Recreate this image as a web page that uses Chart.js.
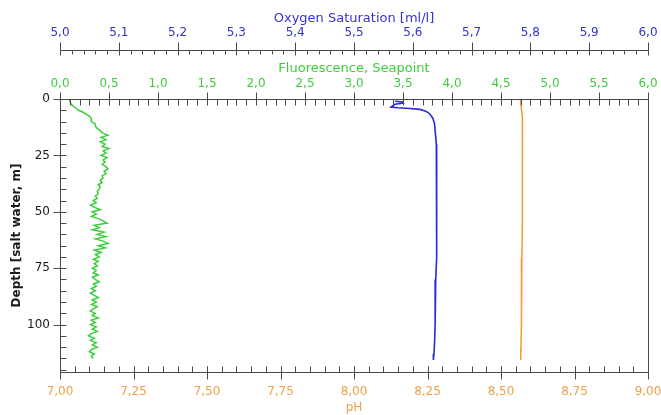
<!DOCTYPE html>
<html>
<head>
<meta charset="utf-8">
<script src="https://cdn.jsdelivr.net/npm/chart.js@4.4.0/dist/chart.umd.min.js"></script>
<style>
    html, body { margin: 0; padding: 0; background: #ffffff; }
    #profile-chart { display: block; }
</style>
</head>
<body>
<canvas id="profile-chart" width="661" height="415"></canvas>
<script>
// CTD cast - depth profile of fluorescence, oxygen saturation and pH

// Fluorescence, Seapoint
const fluoDepth = [0.4, 1, 2, 3, 4, 5, 6, 7, 8, 9, 10, 11, 12, 13, 14, 15, 16, 17, 18, 19, 20,
    21, 22, 23, 24, 25, 26, 27, 28, 29, 30, 31, 32, 33, 34, 35, 36, 37, 38, 39, 40,
    41, 42, 43, 44, 45, 46, 47, 48, 49, 50, 51, 52, 53, 54, 55, 56, 57, 58, 59, 60,
    61, 62, 63, 64, 65, 66, 67, 68, 69, 70, 71, 72, 73, 74, 75, 76, 77, 78, 79, 80,
    81, 82, 83, 84, 85, 86, 87, 88, 89, 90, 91, 92, 93, 94, 95, 96, 97, 98, 99, 100,
    101, 102, 103, 104, 105, 106, 107, 108, 109, 110, 111, 112, 113, 114, 115];
const fluoValues = [0.10, 0.10, 0.11, 0.13, 0.16, 0.19, 0.24, 0.28, 0.31, 0.32, 0.32,
    0.36, 0.36, 0.38, 0.41, 0.43, 0.49, 0.42, 0.47, 0.41, 0.46,
    0.43, 0.50, 0.44, 0.47, 0.42, 0.48, 0.44, 0.46, 0.43, 0.47,
    0.49, 0.45, 0.47, 0.43, 0.44, 0.41, 0.43, 0.39, 0.41, 0.40,
    0.38, 0.39, 0.36, 0.38, 0.34, 0.37, 0.31, 0.35, 0.41, 0.33,
    0.37, 0.32, 0.39, 0.44, 0.48, 0.35, 0.40, 0.33, 0.45, 0.38,
    0.47, 0.36, 0.44, 0.49, 0.39, 0.46, 0.35, 0.42, 0.36, 0.40,
    0.34, 0.39, 0.35, 0.38, 0.33, 0.37, 0.34, 0.39, 0.33, 0.36,
    0.40, 0.34, 0.37, 0.32, 0.36, 0.31, 0.35, 0.39, 0.33, 0.37,
    0.32, 0.38, 0.34, 0.31, 0.36, 0.33, 0.39, 0.32, 0.36, 0.31,
    0.37, 0.33, 0.38, 0.32, 0.29, 0.35, 0.31, 0.37, 0.33, 0.38,
    0.32, 0.30, 0.35, 0.32, 0.34];

// Oxygen Saturation [ml/l]
const oxyDepth = [1.0, 1.3, 1.8, 2.3, 3.0, 3.6, 3.9, 4.2, 4.6, 5.3, 6.0, 7.0, 8.5, 11, 14,
    20, 31, 40, 50, 60, 70, 80, 90, 100, 108, 113, 115.7];
const oxyValues = [5.570, 5.583, 5.584, 5.570, 5.566, 5.563, 5.575, 5.595, 5.612, 5.621,
    5.626, 5.630, 5.634, 5.637, 5.638, 5.640, 5.641, 5.641, 5.641, 5.640, 5.640, 5.639,
    5.638, 5.638, 5.637, 5.636, 5.635];

// pH
const phDepth = [0.4, 3, 6, 9, 15, 25, 40, 55, 70, 85, 100, 110, 115.7];
const phValues = [8.566, 8.568, 8.571, 8.573, 8.574, 8.573, 8.572, 8.572, 8.571, 8.570,
    8.569, 8.568, 8.567];

// Tick labels
const depthTicks = [0, 25, 50, 75, 100];
const depthLabels = ['0', '25', '50', '75', '100'];
const phTicks = [7.00, 7.25, 7.50, 7.75, 8.00, 8.25, 8.50, 8.75, 9.00];
const phLabels = ['7,00', '7,25', '7,50', '7,75', '8,00', '8,25', '8,50', '8,75', '9,00'];
const fluoTicks = [0, 0.5, 1, 1.5, 2, 2.5, 3, 3.5, 4, 4.5, 5, 5.5, 6];
const fluoLabels = ['0,0', '0,5', '1,0', '1,5', '2,0', '2,5', '3,0', '3,5', '4,0', '4,5', '5,0', '5,5', '6,0'];
const oxyTicks = [5.0, 5.1, 5.2, 5.3, 5.4, 5.5, 5.6, 5.7, 5.8, 5.9, 6.0];
const oxyLabels = ['5,0', '5,1', '5,2', '5,3', '5,4', '5,5', '5,6', '5,7', '5,8', '5,9', '6,0'];

const BLUE = '#3434c8';
const GREEN = '#3ccf3c';
const ORANGE = '#f0a048';
const AXIS = '#4a4a4a';
const FONT = '12px "DejaVu Sans"';
const TITLE_FONT = '13px "DejaVu Sans"';

function toPoints(depths, values) {
    return depths.map((d, i) => ({ x: values[i], y: d }));
}

function crisp(v) {
    return Math.round(v) + 0.5;
}

// Draw a horizontal axis: line, major/minor ticks, labels and title
function drawHAxis(ctx, chart, scale, y, o) {
    const area = chart.chartArea;
    y = crisp(y);
    ctx.strokeStyle = AXIS;
    ctx.lineWidth = 1;
    ctx.beginPath();
    ctx.moveTo(area.left, y);
    ctx.lineTo(area.right, y);

    // minor ticks, inward
    const n = Math.round((o.max - o.min) / o.minorStep);
    for (let i = 0; i <= n; i++) {
        const x = crisp(scale.getPixelForValue(o.min + i * o.minorStep));
        ctx.moveTo(x, y);
        ctx.lineTo(x, y + o.dir * o.minorLen);
    }
    // major ticks, both sides
    o.ticks.forEach(t => {
        const x = crisp(scale.getPixelForValue(t));
        ctx.moveTo(x, y - o.dir * o.outLen);
        ctx.lineTo(x, y + o.dir * o.inLen);
    });
    ctx.stroke();

    ctx.fillStyle = o.color;
    ctx.font = FONT;
    ctx.textAlign = 'center';
    ctx.textBaseline = 'middle';
    o.ticks.forEach((t, i) => {
        ctx.fillText(o.labels[i], scale.getPixelForValue(t), y - o.dir * o.labelGap);
    });
    ctx.font = o.titleFont || TITLE_FONT;
    ctx.fillText(o.title, (area.left + area.right) / 2, y - o.dir * o.titleGap);
}

const axesPlugin = {
    id: 'ctdAxes',
    afterDraw(chart) {
        const ctx = chart.ctx;
        const area = chart.chartArea;
        const yScale = chart.scales.y;
        ctx.save();

        // bottom: pH
        drawHAxis(ctx, chart, chart.scales.xPh, area.bottom, {
            min: 7, max: 9, minorStep: 0.05, ticks: phTicks, labels: phLabels,
            dir: -1, minorLen: 6, inLen: 6, outLen: 7, labelGap: 19, titleGap: 35,
            color: ORANGE, title: 'pH', titleFont: FONT
        });
        // top: fluorescence
        drawHAxis(ctx, chart, chart.scales.xFl, area.top, {
            min: 0, max: 6, minorStep: 0.1, ticks: fluoTicks, labels: fluoLabels,
            dir: 1, minorLen: 6, inLen: 4, outLen: 7, labelGap: 16, titleGap: 31,
            color: GREEN, title: 'Fluorescence, Seapoint'
        });
        // top: oxygen, floating above
        drawHAxis(ctx, chart, chart.scales.xO2, 50, {
            min: 5, max: 6, minorStep: 0.02, ticks: oxyTicks, labels: oxyLabels,
            dir: 1, minorLen: 4, inLen: 5, outLen: 8, labelGap: 18, titleGap: 32,
            color: BLUE, title: 'Oxygen Saturation [ml/l]'
        });

        // left: depth
        const xl = crisp(area.left);
        const xr = crisp(area.right);
        ctx.strokeStyle = AXIS;
        ctx.beginPath();
        ctx.moveTo(xl, area.top);
        ctx.lineTo(xl, area.bottom);
        ctx.moveTo(xr, area.top);
        ctx.lineTo(xr, area.bottom);
        for (let d = 0; d <= 120; d += 5) {
            const y = crisp(yScale.getPixelForValue(d));
            ctx.moveTo(xl, y);
            ctx.lineTo(xl + 6, y);
        }
        depthTicks.forEach(d => {
            const y = crisp(yScale.getPixelForValue(d));
            ctx.moveTo(xl - 7, y);
            ctx.lineTo(xl, y);
        });
        ctx.stroke();

        ctx.fillStyle = '#1a1a1a';
        ctx.font = FONT;
        ctx.textAlign = 'right';
        ctx.textBaseline = 'middle';
        depthTicks.forEach((d, i) => {
            ctx.fillText(depthLabels[i], area.left - 10, yScale.getPixelForValue(d));
        });

        ctx.translate(17, (area.top + area.bottom) / 2);
        ctx.rotate(-Math.PI / 2);
        ctx.textAlign = 'center';
        ctx.font = 'bold 12px "DejaVu Sans"';
        ctx.fillText('Depth [salt water, m]', 0, 0);
        ctx.restore();
    }
};

const hidden = { display: false, grid: { display: false } };

new Chart(document.getElementById('profile-chart'), {
    type: 'scatter',
    data: {
        datasets: [
            {
                label: 'Fluorescence',
                data: toPoints(fluoDepth, fluoValues),
                xAxisID: 'xFl',
                borderColor: GREEN,
                borderWidth: 1.5,
                showLine: true,
                pointRadius: 0
            },
            {
                label: 'Oxygen Saturation',
                data: toPoints(oxyDepth, oxyValues),
                xAxisID: 'xO2',
                borderColor: '#2a2ad6',
                borderWidth: 1.6,
                showLine: true,
                pointRadius: 0
            },
            {
                label: 'pH',
                data: toPoints(phDepth, phValues),
                xAxisID: 'xPh',
                borderColor: '#f59a35',
                borderWidth: 1.5,
                showLine: true,
                pointRadius: 0
            }
        ]
    },
    options: {
        responsive: false,
        animation: false,
        devicePixelRatio: 1,
        layout: { padding: { left: 60, right: 13, top: 99, bottom: 43 } },
        plugins: {
            legend: { display: false },
            tooltip: { enabled: false }
        },
        scales: {
            y: { ...hidden, type: 'linear', reverse: true, min: 0, max: 121 },
            xPh: { ...hidden, type: 'linear', position: 'bottom', min: 7, max: 9 },
            xFl: { ...hidden, type: 'linear', position: 'top', min: 0, max: 6 },
            xO2: { ...hidden, type: 'linear', position: 'top', min: 5, max: 6 }
        }
    },
    plugins: [axesPlugin]
});
</script>
</body>
</html>
